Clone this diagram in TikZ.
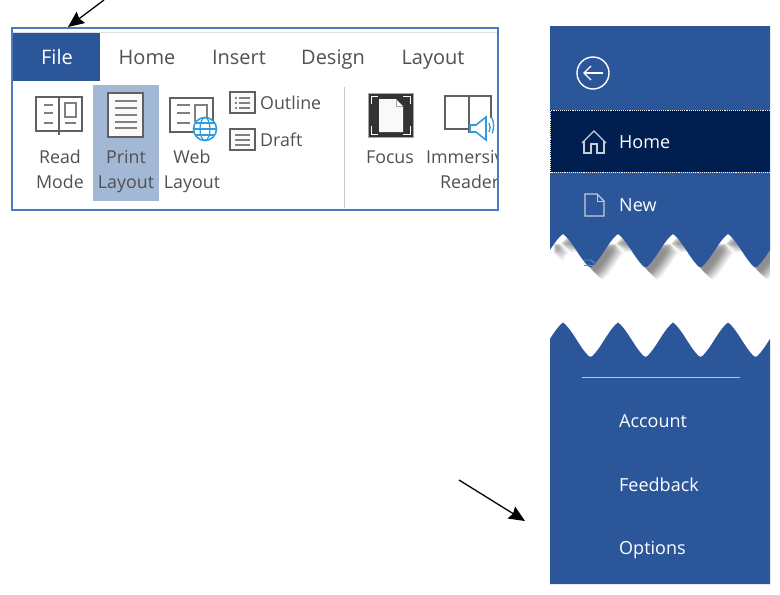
\documentclass[tikz,border=0pt]{standalone}
\usepackage{fontspec}
\setmainfont{Open Sans}
\usetikzlibrary{arrows.meta}
\definecolor{wordblue}{HTML}{2B579A}
\definecolor{framecol}{HTML}{4A7EBB}
\definecolor{printcol}{HTML}{A3B8D4}
\definecolor{ribbontxt}{HTML}{505050}
\definecolor{iconcol}{HTML}{606060}
\definecolor{globecol}{HTML}{2F9CE0}
\definecolor{homerow}{HTML}{001F50}
\definecolor{iconlight}{HTML}{C8CCD4}
\tikzset{
  rtab/.style={font=\fontsize{20}{24}\selectfont,text=ribbontxt,inner sep=0pt,text height=0.75em,text depth=0.25em,yshift=-4.5pt},
  rlab/.style={font=\fontsize{17.8}{22}\selectfont,text=ribbontxt,inner sep=0pt,text height=0.75em,text depth=0.25em,yshift=-4pt},
  mitem/.style={font=\fontsize{18}{22}\selectfont,text=white,inner sep=0pt,anchor=west,text height=0.75em,text depth=0.25em,yshift=-4pt},
  icon/.style={draw=iconcol,line width=1.4pt},
  iline/.style={draw=iconcol!80,line width=1.2pt},
  mark arrow/.style={line width=1.3pt,-{Stealth[length=16pt,width=14pt,inset=2pt]}}
}
\begin{document}
\begin{tikzpicture}[x=1pt,y=-1pt]
  \useasboundingbox (0,0) rectangle (780,595);
  % ribbon
  \begin{scope}
    \clip (12,28) rectangle (497,210);
    \draw[gray!25,line width=1pt] (12,32) -- (498,32);
    \fill[wordblue] (13,33) rectangle (100,81);
    \fill[printcol] (93,85) rectangle (159,201);
    \draw[gray!45,line width=0.8pt] (344.5,87) -- (344.5,208);
    % read mode
    \draw[icon] (59,131) -- (36,131) -- (36,97) -- (59,97) -- (59,135);
    \draw[icon] (59,135) -- (59,131) -- (82,131) -- (82,97) -- (59,97);
    \foreach \y in {105,113,123} \draw[iline] (44,\y) -- (53,\y);
    \draw[iline] (65,103) rectangle (76,117);
    \draw[iline] (65,123) -- (76,123);
    % print layout
    \draw[icon,fill=white!96!gray] (108,93) rectangle (143,137);
    \foreach \y in {101,108,115,122,128} \draw[iline] (115,\y) -- (137,\y);
    % web layout
    \draw[icon] (170,98) rectangle (213,132);
    \foreach \y in {105,113,123} \draw[iline] (177,\y) -- (190,\y);
    \draw[iline] (195,122) -- (195,105) -- (207,105) -- (207,118);
    \draw[globecol,line width=1.6pt,fill=white] (205,129) circle (11.5);
    \draw[globecol,line width=1.2pt] (205,129) ellipse (5 and 11.5);
    \draw[globecol,line width=1.2pt] (194,129) -- (216,129);
    \draw[globecol,line width=1.2pt] (196,123) -- (214,123);
    \draw[globecol,line width=1.2pt] (196,135) -- (214,135);
    % outline, draft
    \draw[icon,fill=white!96!gray] (230,92) rectangle (255,113);
    \foreach \y in {98,103,108} {
      \draw[iline] (235,\y) -- (237,\y);
      \draw[iline] (239,\y) -- (250,\y);
    }
    \draw[icon,fill=white!96!gray] (230,129) rectangle (255,150);
    \foreach \y in {135,140,145} \draw[iline] (235,\y) -- (250,\y);
    % focus
    \fill[black!80,draw=gray!70] (368,93) rectangle (413,137);
    \fill[white!95!gray] (379,99) -- (396,99) -- (403,106) -- (403,132) -- (379,132) -- cycle;
    \draw[gray!70,line width=0.8pt] (396,99) -- (396,106) -- (403,106);
    \draw[white,line width=1pt] (371,104) -- (371,96) -- (378,96);
    \draw[white,line width=1pt] (403,96) -- (410,96) -- (410,104);
    \draw[white,line width=1pt] (371,126) -- (371,134) -- (378,134);
    \draw[white,line width=1pt] (403,134) -- (410,134) -- (410,126);
    % immersive reader
    \draw[icon] (469,129) -- (445,129) -- (445,96) -- (469,96) -- (469,133);
    \draw[icon] (469,96) -- (491,96) -- (491,118);
    \draw[globecol,line width=1.6pt,fill=white] (470,125) -- (476,125) -- (486,117) -- (486,140) -- (476,132) -- (470,132) -- cycle;
    \draw[globecol,line width=1.3pt] (489,123) arc (-40:40:5 and 7);
    \draw[globecol,line width=1.3pt] (492,118) arc (-40:40:7 and 12);
    % ribbon labels
    \node[rtab,text=white] (filetab) at (57,57) {File};
    \node[rtab] (hometab) at (147,57) {Home};
    \node[rtab] (inserttab) at (239,57) {Insert};
    \node[rtab] (designtab) at (333,57) {Design};
    \node[rtab] (layouttab) at (433,57) {Layout};
    \node[rlab] (readlab) at (60,157) {Read};
    \node[rlab] (modelab) at (60,182) {Mode};
    \node[rlab] (printlab) at (126,157) {Print};
    \node[rlab] (playoutlab) at (126,182) {Layout};
    \node[rlab] (weblab) at (192,157) {Web};
    \node[rlab] (wlayoutlab) at (192,182) {Layout};
    \node[rlab,anchor=west] (outlinelab) at (260,103) {Outline};
    \node[rlab,anchor=west] (draftlab) at (260,140) {Draft};
    \node[rlab] (focuslab) at (390,157) {Focus};
    \node[rlab,anchor=west] (immersivelab) at (426,157) {Immersive};
    \node[rlab,anchor=west] (readerlab) at (440,182) {Reader};
  \end{scope}
  \draw[framecol,line width=1.8pt] (12,28) rectangle (498,210);
  % file menu, torn in two
  \foreach \sx/\sy/\o in {12/12/0.1,11/11/0.12,10/10/0.14,9/9/0.16,8/8/0.2,7/7/0.24,6/6/0.28,5/5/0.3,4/4/0.3} {
    \fill[gray,opacity=\o,shift={(\sx,\sy)}] (550,240) --
      plot[domain=550:770,samples=221] (\x,{251-17*(0.4*cos(6.545*(\x-563))+0.6*asin(cos(6.545*(\x-563)))/90)}) -- (770,240) -- cycle;
  }
  \fill[white] (540,200) rectangle (550,300);
  \fill[white] (770,200) rectangle (780,300);
  \fill[wordblue] (550,26) -- (770,26) -- (770,251) --
    plot[domain=770:550,samples=221] (\x,{min(251-17*(0.4*cos(6.545*(\x-563))+0.6*asin(cos(6.545*(\x-563)))/90),267)}) -- cycle;
  \fill[wordblue] (550,584) -- (770,584) -- (770,340) --
    plot[domain=770:550,samples=221] (\x,{min(340-17.5*(0.4*cos(6.545*(\x-563))+0.6*asin(cos(6.545*(\x-563)))/90),356.5)}) -- cycle;
  \draw[wordblue!70,line width=0.8pt] (584,260) -- (591,260) -- (594,263) -- (600,263);
  \draw[wordblue!70,line width=0.8pt] (584,265) -- (598,265);
  \fill[homerow] (550,110) rectangle (770,172);
  \draw[white,line width=0.9pt,densely dotted] (770,110) -- (550.5,110) -- (550.5,172) -- (770,172);
  % back button
  \draw[white,line width=1.4pt] (593,73) circle (16);
  \draw[white,line width=1.3pt] (603,73) -- (584,73);
  \draw[white,line width=1.3pt] (591,66) -- (584,73) -- (591,80);
  % home icon
  \draw[iconlight,line width=1.4pt] (582,143) -- (594,131) -- (606,143);
  \draw[iconlight,line width=1.4pt] (584,141) -- (584,153) -- (591,153) -- (591,144) -- (597,144) -- (597,153) -- (604,153) -- (604,141);
  % new icon
  \draw[iconlight,line width=1.4pt] (585,194) -- (597,194) -- (604,201) -- (604,216) -- (585,216) -- cycle;
  \draw[iconlight,line width=1pt] (597,194) -- (597,201) -- (604,201);
  \draw[printcol!80!white,line width=0.9pt] (582,377) -- (740,377);
  \node[mitem] (homeitem) at (619,142) {Home};
  \node[mitem] (newitem) at (619,205) {New};
  \node[mitem] (accountitem) at (619,421) {Account};
  \node[mitem] (feedbackitem) at (619,485) {Feedback};
  \node[mitem] (optionsitem) at (619,548) {Options};
  % arrows
  \coordinate (fileA) at (104,0);
  \coordinate (fileB) at (68,27);
  \coordinate (optA) at (459,480);
  \coordinate (optB) at (525,521);
  \draw[mark arrow] (fileA) -- (fileB);
  \draw[mark arrow] (optA) -- (optB);
\end{tikzpicture}
\end{document}
